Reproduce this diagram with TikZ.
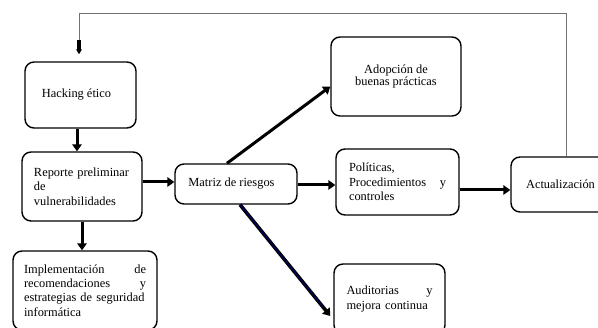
\documentclass[tikz,border=0pt]{standalone}
\usepackage{fontspec}
\setmainfont{Liberation Serif}
\usetikzlibrary{arrows.meta,calc}
\hyphenpenalty=10000
\begin{document}
\begin{tikzpicture}[x=1pt,y=-1pt,
  box/.style={draw=black,line width=1.4pt,rounded corners=9pt,inner sep=0pt,
    font=\fontsize{12.4}{14.3}\selectfont},
  arr/.style={line width=3pt,-{Triangle[length=7pt,width=9.5pt]}},
  fbline/.style={draw=black!55,line width=0.9pt}]
\useasboundingbox (0,0) rectangle (598,328);
\clip (0,0) rectangle (598,328);
\node[box,minimum width=111pt,minimum height=66pt] (hack) at (80.5,95) {\hspace*{-8pt}Hacking ético};
\node[box,minimum width=120pt,minimum height=69pt,text width=96pt,align=left] (rep) at (82,186.5)
  {Reporte preliminar\\de\\vulnerabilidades};
\node[box,minimum width=144pt,minimum height=79pt,text width=122pt,align=left] (impl) at (85,290.5)
  {Implementación\hfill de\\recomendaciones\hfill y\\\mbox{estrategias de seguridad}\\informática};
\node[box,minimum width=122pt,minimum height=40pt] (mat) at (236,184) {\hspace*{-9pt}Matriz de riesgos};
\node[box,minimum width=123pt,minimum height=66pt,text width=97pt,align=left] (pol) at (397.5,182)
  {Políticas,\\Procedimientos\hfill y\\controles};
\node[box,minimum width=99pt,minimum height=55pt] (act) at (560.5,184.5) {Actualización};
\node[box,minimum width=130pt,minimum height=79pt,align=center] (adop) at (396,76.5)
  {Adopción de\\[-2pt]buenas prácticas};
\node[box,minimum width=111pt,minimum height=70pt,text width=86pt,align=left] (aud) at (389.5,299)
  {Auditorias\hfill y\\mejora continua};
% connectors
\draw[arr] ([xshift=-3.5pt]hack.south) -- ([xshift=-5pt]rep.north);
\draw[arr] (rep.south) -- (rep.south |- impl.north);
\draw[arr] ([yshift=4.5pt]rep.east) -- ([yshift=2pt]mat.west);
\draw[arr] ([yshift=-1pt]mat.east) -- ([yshift=-1pt]mat.east -| pol.west);
\coordinate (p1) at ([yshift=-8pt]pol.east);
\draw[arr] (p1) -- (p1 -| act.west);
\draw[arr] ([xshift=-9pt]mat.north) -- ([yshift=-10pt]adop.west);
\coordinate (d1) at ([xshift=4pt]mat.south);
\coordinate (d2) at ([xshift=-3pt,yshift=-17pt]aud.west);
\draw[arr,line width=3.6pt] (d1) -- (d2);
\draw[blue!45!black,line width=0.9pt,shorten >=10pt] (d1) -- (d2);
% feedback
\coordinate (fbtop) at (79,13);
\coordinate (fb) at (79,40);
\draw[fbline] ([xshift=5.5pt]act.north) |- (fbtop) -- (fb);
\draw[line width=3.4pt,-{Triangle[length=5pt,width=5.5pt]}] (fb) -- ([xshift=-1.5pt,yshift=7pt]hack.north);
\end{tikzpicture}
\end{document}
